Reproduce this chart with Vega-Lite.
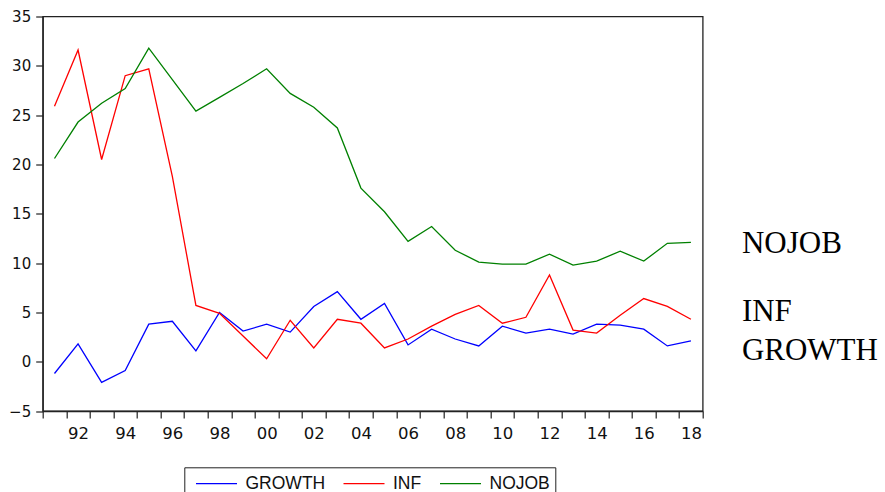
{
  "$schema": "https://vega.github.io/schema/vega-lite/v6.json",
  "autosize": {"type": "none"},
  "width": 660,
  "height": 394.5,
  "padding": {"left": 42.7, "top": 16.5, "right": 182.3, "bottom": 81},
  "background": "white",
  "config": {
    "font": "Liberation Sans",
    "view": {"stroke": "#222", "strokeWidth": 1.3},
    "axis": {"grid": false, "domainColor": "#222", "tickColor": "#222", "labelColor": "#111", "domainWidth": 1.3, "tickWidth": 1.2, "labelFont": "DejaVu Sans"}
  },
  "data": {
    "values": [
      {"year": 1991, "GROWTH": -1.2, "INF": 25.9, "NOJOB": 20.6},
      {"year": 1992, "GROWTH": 1.8, "INF": 31.6, "NOJOB": 24.3},
      {"year": 1993, "GROWTH": -2.1, "INF": 20.5, "NOJOB": 26.2},
      {"year": 1994, "GROWTH": -0.9, "INF": 29.0, "NOJOB": 27.7},
      {"year": 1995, "GROWTH": 3.8, "INF": 29.7, "NOJOB": 31.8},
      {"year": 1996, "GROWTH": 4.1, "INF": 18.8, "NOJOB": 28.6},
      {"year": 1997, "GROWTH": 1.1, "INF": 5.7, "NOJOB": 25.4},
      {"year": 1998, "GROWTH": 5.0, "INF": 4.9, "NOJOB": 26.8},
      {"year": 1999, "GROWTH": 3.1, "INF": 2.6, "NOJOB": 28.2},
      {"year": 2000, "GROWTH": 3.8, "INF": 0.3, "NOJOB": 29.7},
      {"year": 2001, "GROWTH": 3.0, "INF": 4.2, "NOJOB": 27.2},
      {"year": 2002, "GROWTH": 5.6, "INF": 1.4, "NOJOB": 25.8},
      {"year": 2003, "GROWTH": 7.1, "INF": 4.3, "NOJOB": 23.7},
      {"year": 2004, "GROWTH": 4.3, "INF": 3.9, "NOJOB": 17.6},
      {"year": 2005, "GROWTH": 5.9, "INF": 1.4, "NOJOB": 15.2},
      {"year": 2006, "GROWTH": 1.7, "INF": 2.3, "NOJOB": 12.2},
      {"year": 2007, "GROWTH": 3.3, "INF": 3.6, "NOJOB": 13.7},
      {"year": 2008, "GROWTH": 2.3, "INF": 4.8, "NOJOB": 11.3},
      {"year": 2009, "GROWTH": 1.6, "INF": 5.7, "NOJOB": 10.1},
      {"year": 2010, "GROWTH": 3.6, "INF": 3.9, "NOJOB": 9.9},
      {"year": 2011, "GROWTH": 2.9, "INF": 4.5, "NOJOB": 9.9},
      {"year": 2012, "GROWTH": 3.3, "INF": 8.8, "NOJOB": 10.9},
      {"year": 2013, "GROWTH": 2.8, "INF": 3.2, "NOJOB": 9.8},
      {"year": 2014, "GROWTH": 3.8, "INF": 2.9, "NOJOB": 10.2},
      {"year": 2015, "GROWTH": 3.7, "INF": 4.7, "NOJOB": 11.2},
      {"year": 2016, "GROWTH": 3.3, "INF": 6.4, "NOJOB": 10.2},
      {"year": 2017, "GROWTH": 1.6, "INF": 5.6, "NOJOB": 12.0},
      {"year": 2018, "GROWTH": 2.1, "INF": 4.3, "NOJOB": 12.1}
    ]
  },
  "transform": [{"fold": ["GROWTH", "INF", "NOJOB"], "as": ["series", "value"]}],
  "encoding": {
    "x": {
      "field": "year", "type": "quantitative",
      "scale": {"domain": [1990.5, 2018.5], "nice": false, "zero": false},
      "axis": {
        "title": null,
        "values": [1990.5, 1991.5, 1992.5, 1993.5, 1994.5, 1995.5, 1996.5, 1997.5, 1998.5, 1999.5, 2000.5, 2001.5, 2002.5, 2003.5, 2004.5, 2005.5, 2006.5, 2007.5, 2008.5, 2009.5, 2010.5, 2011.5, 2012.5, 2013.5, 2014.5, 2015.5, 2016.5, 2017.5, 2018.5],
        "labelExpr": "(datum.value - 0.5) % 2 == 1 ? substring(toString(datum.value + 0.5), 2, 4) : ''",
        "labelOffset": 11.79,
        "labelOverlap": false,
        "labelFlush": false,
        "tickSize": 7,
        "labelPadding": 7,
        "labelFontSize": 16.5
      }
    },
    "y": {
      "field": "value", "type": "quantitative",
      "scale": {"domain": [-5, 35], "nice": false, "zero": false},
      "axis": {
        "title": null,
        "values": [-5, 0, 5, 10, 15, 20, 25, 30, 35],
        "tickSize": 7,
        "labelPadding": 5,
        "labelFontSize": 15
      }
    }
  },
  "layer": [
    {
      "mark": {"type": "line", "strokeWidth": 1.3},
      "encoding": {
        "color": {
          "field": "series", "type": "nominal",
          "scale": {"domain": ["GROWTH", "INF", "NOJOB"], "range": ["#0000FF", "#FF0000", "#008000"]},
          "legend": {
            "orient": "none", "legendX": 141.6, "legendY": 450.8,
            "direction": "horizontal", "title": null,
            "symbolType": "M-2.05,0H2.05", "symbolSize": 400, "symbolStrokeWidth": 1.3,
            "symbolOffset": 16.2,
            "labelFont": "Liberation Sans", "labelFontSize": 17.5, "labelColor": "#111",
            "labelOffset": 18, "columnPadding": 11.5, "padding": 5,
            "strokeColor": "#222", "fillColor": "white"
          }
        }
      }
    },
    {
      "transform": [{"filter": "datum.year == 2018 && datum.series == 'NOJOB'"}],
      "mark": {"type": "text", "align": "left", "baseline": "middle", "dx": 51, "dy": 2, "font": "Liberation Serif", "fontSize": 31, "color": "black"},
      "encoding": {"text": {"field": "series"}}
    },
    {
      "transform": [{"filter": "datum.year == 2018 && datum.series == 'INF'"}],
      "mark": {"type": "text", "align": "left", "baseline": "middle", "dx": 51, "dy": -7, "font": "Liberation Serif", "fontSize": 31, "color": "black"},
      "encoding": {"text": {"field": "series"}}
    },
    {
      "transform": [{"filter": "datum.year == 2018 && datum.series == 'GROWTH'"}],
      "mark": {"type": "text", "align": "left", "baseline": "middle", "dx": 51, "dy": 10, "font": "Liberation Serif", "fontSize": 31, "color": "black"},
      "encoding": {"text": {"field": "series"}}
    }
  ]
}
